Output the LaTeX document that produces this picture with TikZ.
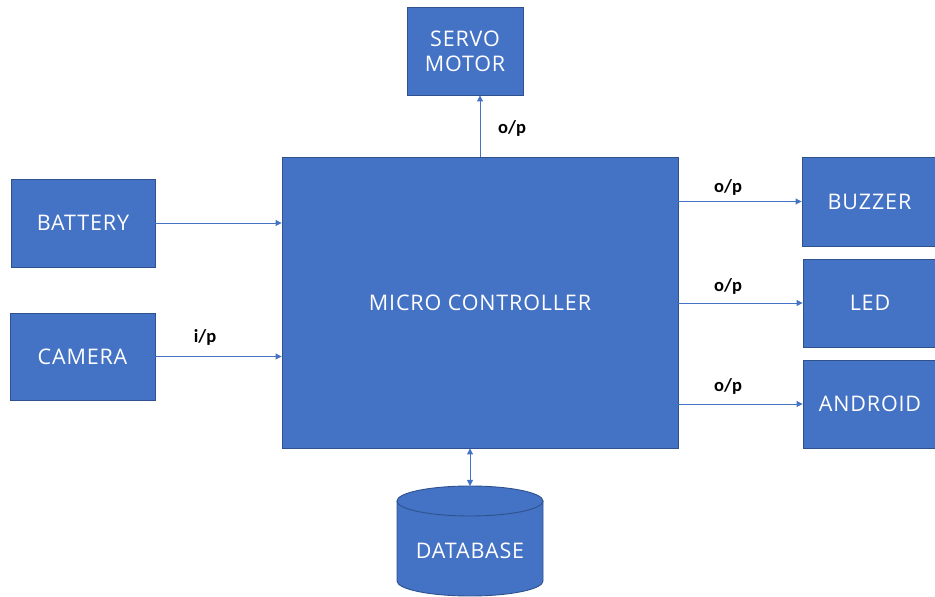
\documentclass[tikz,border=0pt]{standalone}
\usepackage{fontspec}
\setmainfont{Open Sans}[LetterSpace=4]
\newfontfamily\labfont{Carlito}
\usetikzlibrary{arrows.meta,calc}
\definecolor{boxfill}{HTML}{4472C4}
\definecolor{boxline}{HTML}{2F528F}
\begin{document}
\begin{tikzpicture}[x=1pt,y=1pt,
  blk/.style={draw=boxline,line width=0.9pt,fill=boxfill,text=white,font=\fontsize{21.5}{25}\selectfont,align=center,inner sep=0pt},
  conn/.style={draw=boxfill,line width=0.9pt,-{Triangle[width=6pt,length=6pt]}},
  biconn/.style={draw=boxfill,line width=0.9pt,{Triangle[width=6pt,length=6pt]}-{Triangle[width=6pt,length=6pt]}},
  lbl/.style={font=\labfont\bfseries\fontsize{18.5}{20}\selectfont,text=black,inner sep=0pt}]
\useasboundingbox (0,0) rectangle (935,597);
\node[blk,minimum width=396,minimum height=291] (mc) at (480,294.5) {MICRO CONTROLLER};
\node[blk,minimum width=116,minimum height=88] (servo) at (465,546) {SERVO\\MOTOR};
\node[blk,minimum width=144,minimum height=88] (battery) at (83,374) {BATTERY};
\node[blk,minimum width=145,minimum height=87] (camera) at (82.5,240.5) {CAMERA};
\node[blk,minimum width=135,minimum height=89] (buzzer) at (869.5,395.5) {BUZZER};
\node[blk,minimum width=134,minimum height=88] (led) at (870,294) {LED};
\node[blk,minimum width=134,minimum height=88] (android) at (870,193) {ANDROID};
% database cylinder
\fill[boxfill] (397,96) -- (397,16) arc[start angle=180,end angle=360,x radius=73,y radius=15] -- (543,96) arc[start angle=0,end angle=180,x radius=73,y radius=15] -- cycle;
\draw[boxline,line width=0.9pt] (397,96) -- (397,16) arc[start angle=180,end angle=360,x radius=73,y radius=15] -- (543,96);
\draw[boxline,line width=0.9pt] (470,96) ellipse[x radius=73,y radius=15];
\coordinate (dbtop) at (470,111);
\node[text=white,font=\fontsize{21.5}{25}\selectfont,inner sep=0pt] (db) at (470,46) {DATABASE};
% connectors
\draw[conn] (mc.north) -- (mc.north |- servo.south);
\draw[conn] (battery.east) -- (battery.east -| mc.west);
\draw[conn] (camera.east) -- (camera.east -| mc.west);
\draw[conn] (mc.east |- buzzer.west) -- (buzzer.west);
\draw[conn] (mc.east |- led.west) -- (led.west);
\draw[conn] (mc.east |- android.west) -- (android.west);
\draw[biconn] (mc.south -| dbtop) -- (dbtop);
% labels
\node[lbl] (l1) at (512,469) {o/p};
\node[lbl] (l2) at (205,260) {i/p};
\node[lbl] (l3) at (728,410) {o/p};
\node[lbl] (l4) at (728,311) {o/p};
\node[lbl] (l5) at (728,211) {o/p};
\end{tikzpicture}
\end{document}
